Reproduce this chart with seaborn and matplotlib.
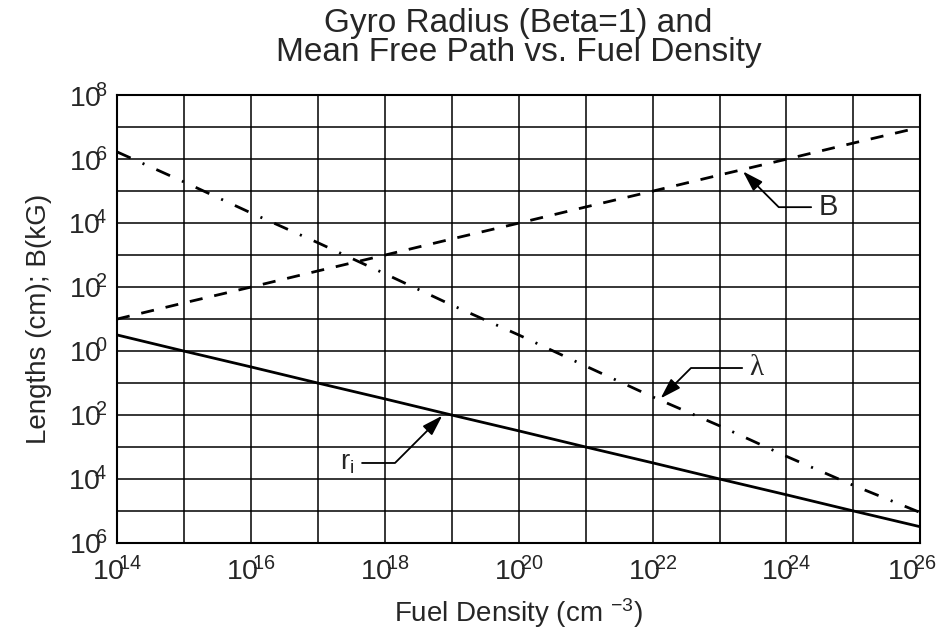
import numpy as np
import pandas as pd
import matplotlib
matplotlib.use('Agg')
import matplotlib.pyplot as plt
import matplotlib.transforms as mtransforms
from matplotlib.ticker import NullFormatter
import seaborn as sns

# data (one value per decade of fuel density)
density = [1e14, 1e15, 1e16, 1e17, 1e18, 1e19, 1e20, 1e21, 1e22, 1e23, 1e24, 1e25, 1e26]
gyro_radius = [3.2, 1.0, 0.32, 0.1, 0.032, 0.01, 3.2e-3, 1e-3, 3.2e-4, 1e-4, 3.2e-5, 1e-5, 3.2e-6]
mean_free_path = [1.7e6, 1.95e5, 2.1e4, 2.45e3, 263, 27.5, 3.2, 0.34, 0.037, 4.6e-3, 5.1e-4, 6.3e-5, 8.9e-6]
b_field = [10, 32, 100, 320, 1e3, 3.2e3, 1e4, 3.2e4, 1e5, 3.2e5, 1e6, 3.2e6, 1e7]

x_ticks = [1e14, 1e16, 1e18, 1e20, 1e22, 1e24, 1e26]
x_labels = ['14', '16', '18', '20', '22', '24', '26']
y_ticks = [1e8, 1e6, 1e4, 1e2, 1e0, 1e-2, 1e-4, 1e-6]
y_labels = ['8', '6', '4', '2', '0', '2', '4', '6']   # as printed on the original

df = pd.DataFrame({'density': density, 'r_i': gyro_radius,
                   'lam': mean_free_path, 'B': b_field})

sns.set_theme(style='white')
plt.rcParams['font.family'] = ['Liberation Sans', 'DejaVu Sans']
plt.rcParams['mathtext.fontset'] = 'custom'
plt.rcParams['mathtext.rm'] = 'Liberation Sans'
plt.rcParams['mathtext.it'] = 'Liberation Sans:italic'
plt.rcParams['lines.scale_dashes'] = False

fig = plt.figure(figsize=(9.43, 6.35), dpi=100)
ax = fig.add_axes([0.124, 0.145, 0.852, 0.705])
ax.set_xscale('log')
ax.set_yscale('log')

sns.lineplot(data=df, x='density', y='r_i', ax=ax, color='black', lw=2.0)
sns.lineplot(data=df, x='density', y='lam', ax=ax, color='black', lw=2.0,
             linestyle=(0, (10.8, 9.4, 1.5, 9.4)))
sns.lineplot(data=df, x='density', y='B', ax=ax, color='black', lw=2.0,
             linestyle=(0, (9.4, 8.6)))

ax.set_xlim(1e14, 1e26)
ax.set_ylim(1e-6, 1e8)

# grid on every decade
ax.set_xticks([10.0 ** k for k in range(14, 27)], minor=True)
ax.set_yticks([10.0 ** k for k in range(-6, 9)], minor=True)
ax.xaxis.set_minor_formatter(NullFormatter())
ax.yaxis.set_minor_formatter(NullFormatter())
ax.grid(True, which='both', color='black', lw=1.1)
ax.set_xticks(x_ticks)
ax.set_xticklabels([r'$\mathregular{10^{\!\!%s}}$' % s for s in x_labels])
ax.set_yticks(y_ticks)
ax.set_yticklabels([r'$\mathregular{10^{\!\!%s}}$' % s for s in y_labels])
ax.tick_params(which='both', length=0)
ax.tick_params(axis='x', labelsize=20.5, pad=10)
ax.tick_params(axis='y', labelsize=20.5, pad=7)
for sp in ax.spines.values():
    sp.set_color('black')
    sp.set_linewidth(1.5)

# last x label sits at the figure edge, nudge it in a little
last = ax.get_xticklabels()[-1]
last.set_transform(last.get_transform() +
                   mtransforms.ScaledTranslation(-6 / 72, 0, fig.dpi_scale_trans))

ax.set_xlabel(r'Fuel Density (cm $^{\mathregular{-3}}$)', fontsize=20, labelpad=7)
ax.set_ylabel('Lengths (cm); B(kG)', fontsize=20, labelpad=12)
ax.set_title('Gyro Radius (Beta=1) and\nMean Free Path vs. Fuel Density',
             fontsize=24, linespacing=0.88, pad=25)

arrow = dict(arrowstyle='-|>,head_length=0.7,head_width=0.22', color='black',
             lw=1.3, mutation_scale=18, shrinkB=0)

ax.annotate('B', xy=(10 ** 23.35, 10 ** 5.62), xytext=(10 ** 24.48, 10 ** 4.5),
            fontsize=21, ha='left', va='center',
            arrowprops=dict(arrow, relpos=(0, 0.5), shrinkA=3,
                            connectionstyle='angle,angleA=0,angleB=135'))
ax.annotate('λ', xy=(10 ** 22.12, 10 ** -1.48), xytext=(10 ** 23.45, 10 ** -0.53),
            fontsize=21, ha='left', va='center', family=['Liberation Serif', 'DejaVu Serif'],
            arrowprops=dict(arrow, relpos=(0, 0.5), shrinkA=3,
                            connectionstyle='angle,angleA=0,angleB=45'))
ax.annotate(r'r$_\mathregular{i}$', xy=(10 ** 18.86, 10 ** -2.02), xytext=(10 ** 17.55, 10 ** -3.5),
            fontsize=20, ha='right', va='center',
            arrowprops=dict(arrow, relpos=(1, 0.5), shrinkA=3,
                            connectionstyle='angle,angleA=0,angleB=45'))

fig.savefig('out.png', dpi=100)
